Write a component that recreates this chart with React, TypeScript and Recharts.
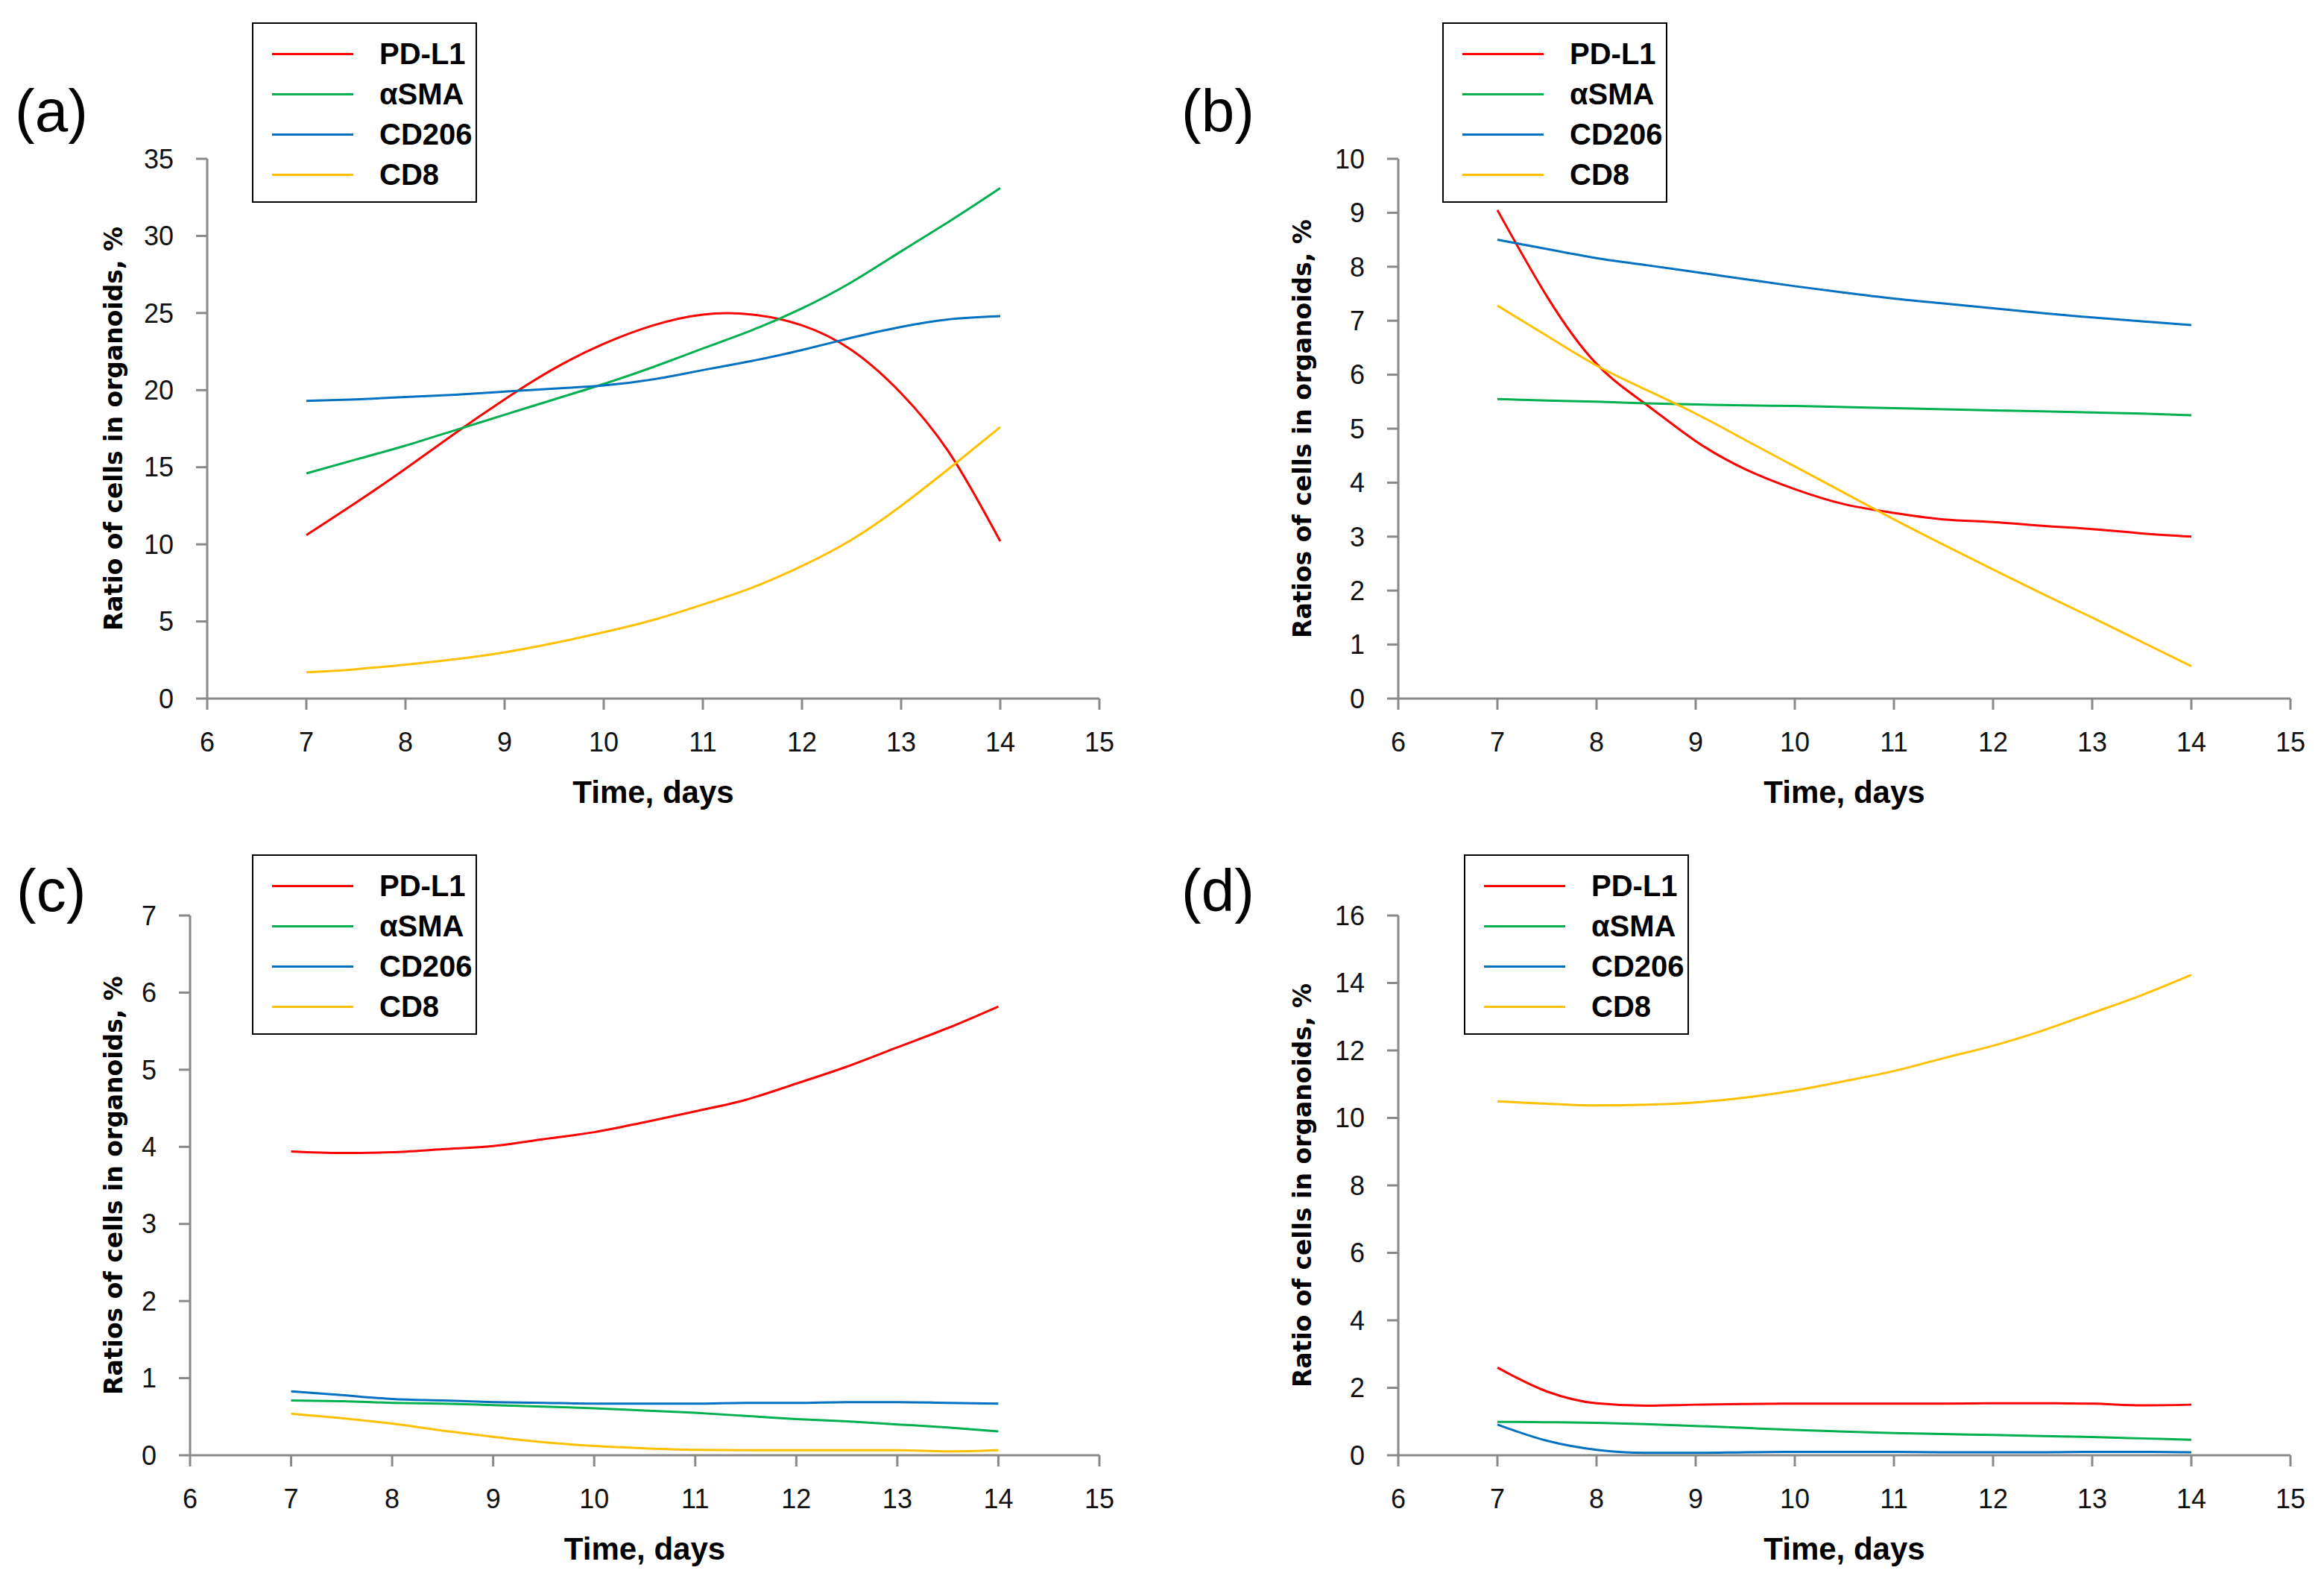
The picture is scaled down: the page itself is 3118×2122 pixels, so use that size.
import React from 'react';
import { LineChart, Line, XAxis, YAxis } from 'recharts';

const days = [7, 7.5, 8, 8.5, 9, 9.5, 10, 10.5, 11, 11.5, 12, 12.5, 13, 13.5, 14];
const xTicks = [6, 7, 8, 9, 10, 11, 12, 13, 14, 15];

const seriesNames = ['PD-L1', 'αSMA', 'CD206', 'CD8'];
const seriesColors = ['#ff0000', '#00b050', '#0070c0', '#ffc000'];

// (a)
const pdl1A = [10.6, 12.7, 14.9, 17.2, 19.4, 21.4, 23.0, 24.2, 24.9, 24.9, 24.2, 22.6, 19.8, 15.8, 10.2];
const asmaA = [14.6, 15.5, 16.4, 17.4, 18.4, 19.4, 20.4, 21.5, 22.7, 23.9, 25.3, 27.0, 29.0, 31.0, 33.1];
const cd206A = [19.3, 19.4, 19.55, 19.7, 19.9, 20.1, 20.3, 20.7, 21.3, 21.9, 22.6, 23.4, 24.1, 24.6, 24.8];
const cd8A = [1.7, 1.9, 2.2, 2.55, 3.0, 3.6, 4.3, 5.1, 6.1, 7.2, 8.6, 10.3, 12.5, 15.0, 17.6];
const yTicksA = [0, 5, 10, 15, 20, 25, 30, 35];

// (b)
const pdl1B = [9.05, 7.45, 6.2, 5.45, 4.77, 4.25, 3.88, 3.6, 3.44, 3.32, 3.27, 3.2, 3.14, 3.06, 3.0];
const asmaB = [5.55, 5.52, 5.5, 5.47, 5.45, 5.43, 5.42, 5.4, 5.38, 5.36, 5.34, 5.32, 5.3, 5.28, 5.25];
const cd206B = [8.5, 8.33, 8.16, 8.03, 7.9, 7.77, 7.64, 7.52, 7.41, 7.32, 7.23, 7.14, 7.06, 6.99, 6.92];
const cd8B = [7.28, 6.72, 6.17, 5.72, 5.28, 4.79, 4.3, 3.81, 3.32, 2.85, 2.39, 1.94, 1.5, 1.05, 0.6];
const yTicksB = [0, 1, 2, 3, 4, 5, 6, 7, 8, 9, 10];

// (c)
const pdl1C = [3.94, 3.92, 3.93, 3.97, 4.01, 4.1, 4.19, 4.32, 4.46, 4.61, 4.82, 5.04, 5.29, 5.54, 5.82];
const asmaC = [0.71, 0.7, 0.68, 0.67, 0.65, 0.63, 0.61, 0.58, 0.55, 0.51, 0.47, 0.44, 0.4, 0.36, 0.31];
const cd206C = [0.83, 0.78, 0.73, 0.71, 0.69, 0.68, 0.67, 0.67, 0.67, 0.68, 0.68, 0.69, 0.69, 0.68, 0.67];
const cd8C = [0.54, 0.48, 0.41, 0.32, 0.24, 0.17, 0.12, 0.09, 0.07, 0.065, 0.065, 0.065, 0.065, 0.05, 0.065];
const yTicksC = [0, 1, 2, 3, 4, 5, 6, 7];

// (d)
const pdl1D = [2.6, 1.89, 1.54, 1.47, 1.5, 1.52, 1.53, 1.53, 1.53, 1.53, 1.54, 1.54, 1.53, 1.48, 1.5];
const asmaD = [0.99, 0.98, 0.96, 0.92, 0.87, 0.81, 0.75, 0.7, 0.66, 0.63, 0.6, 0.57, 0.54, 0.5, 0.46];
const cd206D = [0.91, 0.43, 0.16, 0.07, 0.07, 0.09, 0.1, 0.1, 0.1, 0.09, 0.09, 0.09, 0.1, 0.1, 0.09];
const cd8D = [10.49, 10.42, 10.37, 10.39, 10.46, 10.6, 10.81, 11.09, 11.39, 11.77, 12.14, 12.59, 13.11, 13.64, 14.24];
const yTicksD = [0, 2, 4, 6, 8, 10, 12, 14, 16];

const buildRows = (cols: number[][]) =>
  days.map((day, i) => {
    const row: any = { day };
    cols.forEach((c, j) => (row['s' + j] = c[i]));
    return row;
  });

const NARROW = "'Liberation Sans Narrow', 'Liberation Sans', Arial, sans-serif";
const AXIS_GRAY = '#898989';
const PW = 1559;
const PH = 1061;
const Y_W = 100;
const X_H = 100;

const panels = [
  { letter: '(a)', ox: 0, oy: 0, plot: { l: 278, t: 213, r: 1475, b: 937 }, letterPos: [20, 104], legendPos: [338, 30], curve: 'natural', yTitle: 'Ratio of cells in organoids, %', yTitleX: 152, rows: buildRows([pdl1A, asmaA, cd206A, cd8A]), yTicks: yTicksA },
  { letter: '(b)', ox: 1559, oy: 0, plot: { l: 1876, t: 213, r: 3073, b: 937 }, letterPos: [1585, 104], legendPos: [1935, 30], curve: 'natural', yTitle: 'Ratios of cells in organoids, %', yTitleX: 1747, rows: buildRows([pdl1B, asmaB, cd206B, cd8B]), yTicks: yTicksB },
  { letter: '(c)', ox: 0, oy: 1061, plot: { l: 255, t: 1228, r: 1475, b: 1952 }, letterPos: [22, 1150], legendPos: [338, 1146], curve: 'monotone', yTitle: 'Ratios of cells in organoids, %', yTitleX: 152, rows: buildRows([pdl1C, asmaC, cd206C, cd8C]), yTicks: yTicksC },
  { letter: '(d)', ox: 1559, oy: 1061, plot: { l: 1876, t: 1228, r: 3073, b: 1952 }, letterPos: [1585, 1150], legendPos: [1964, 1146], curve: 'monotone', yTitle: 'Ratio of cells in organoids, %', yTitleX: 1747, rows: buildRows([pdl1D, asmaD, cd206D, cd8D]), yTicks: yTicksD },
];

const tickStyle = { fill: '#111', fontSize: 36, fontFamily: NARROW };

const LegendBox = ({ x, y }: { x: number; y: number }) => (
  <div
    style={{
      position: 'absolute',
      left: x,
      top: y,
      width: 302,
      height: 242,
      boxSizing: 'border-box',
      border: '2px solid #000',
      background: '#fff',
    }}
  >
    {seriesNames.map((name, i) => (
      <div key={name} style={{ position: 'absolute', left: 0, top: 40 + i * 54 - 27, height: 54, width: '100%' }}>
        <div style={{ position: 'absolute', left: 25, top: 26, width: 109, height: 3, background: seriesColors[i] }} />
        <div
          style={{
            position: 'absolute',
            left: 169,
            top: 0,
            lineHeight: '54px',
            fontFamily: NARROW,
            fontWeight: 'bold',
            fontSize: 40,
            color: '#000',
          }}
        >
          {name}
        </div>
      </div>
    ))}
  </div>
);

const Panel = ({ p }: { p: (typeof panels)[number] }) => {
  const margin = {
    top: p.plot.t - p.oy,
    left: p.plot.l - p.ox - Y_W,
    right: p.ox + PW - p.plot.r,
    bottom: p.oy + PH - p.plot.b - X_H,
  };
  const yMax = p.yTicks[p.yTicks.length - 1];
  return (
    <>
      <div style={{ position: 'absolute', left: p.ox, top: p.oy }}>
        <LineChart width={PW} height={PH} data={p.rows} margin={margin}>
          <XAxis
            dataKey="day"
            type="number"
            domain={[6, 15]}
            ticks={xTicks}
            height={X_H}
            axisLine={{ stroke: AXIS_GRAY, strokeWidth: 3 }}
            tickLine={{ stroke: AXIS_GRAY, strokeWidth: 3 }}
            tickSize={15}
            tickMargin={30}
            tick={tickStyle}
            interval={0}
          />
          <YAxis
            type="number"
            domain={[0, yMax]}
            ticks={p.yTicks}
            width={Y_W}
            axisLine={{ stroke: AXIS_GRAY, strokeWidth: 3 }}
            tickLine={{ stroke: AXIS_GRAY, strokeWidth: 3 }}
            tickSize={15}
            tickMargin={30}
            tick={tickStyle}
            interval={0}
          />
          {seriesNames.map((name, i) => (
            <Line
              key={name}
              name={name}
              dataKey={'s' + i}
              type={p.curve as any}
              stroke={seriesColors[i]}
              strokeWidth={3}
              dot={false}
              activeDot={false}
              isAnimationActive={false}
            />
          ))}
        </LineChart>
      </div>
      <div
        style={{
          position: 'absolute',
          left: p.letterPos[0],
          top: p.letterPos[1],
          fontFamily: NARROW,
          fontSize: 80,
          lineHeight: '90px',
          color: '#000',
        }}
      >
        {p.letter}
      </div>
      <LegendBox x={p.legendPos[0]} y={p.legendPos[1]} />
      <div
        style={{
          position: 'absolute',
          left: p.yTitleX,
          top: (p.plot.t + p.plot.b) / 2,
          transform: 'translate(-50%, -50%) rotate(-90deg)',
          whiteSpace: 'nowrap',
          fontFamily: "'DejaVu Sans', Verdana, sans-serif",
          fontWeight: 'bold',
          fontSize: 33,
          color: '#000',
        }}
      >
        {p.yTitle}
      </div>
      <div
        style={{
          position: 'absolute',
          left: (p.plot.l + p.plot.r) / 2,
          top: p.plot.b + 126,
          transform: 'translate(-50%, -50%)',
          whiteSpace: 'nowrap',
          fontFamily: NARROW,
          fontWeight: 'bold',
          fontSize: 42,
          color: '#000',
        }}
      >
        Time, days
      </div>
    </>
  );
};

export default function App() {
  return (
    <div style={{ position: 'absolute', left: 0, top: 0, width: 3118, height: 2122, background: '#fff', overflow: 'hidden' }}>
      {panels.map((p) => (
        <Panel key={p.letter} p={p} />
      ))}
    </div>
  );
}
